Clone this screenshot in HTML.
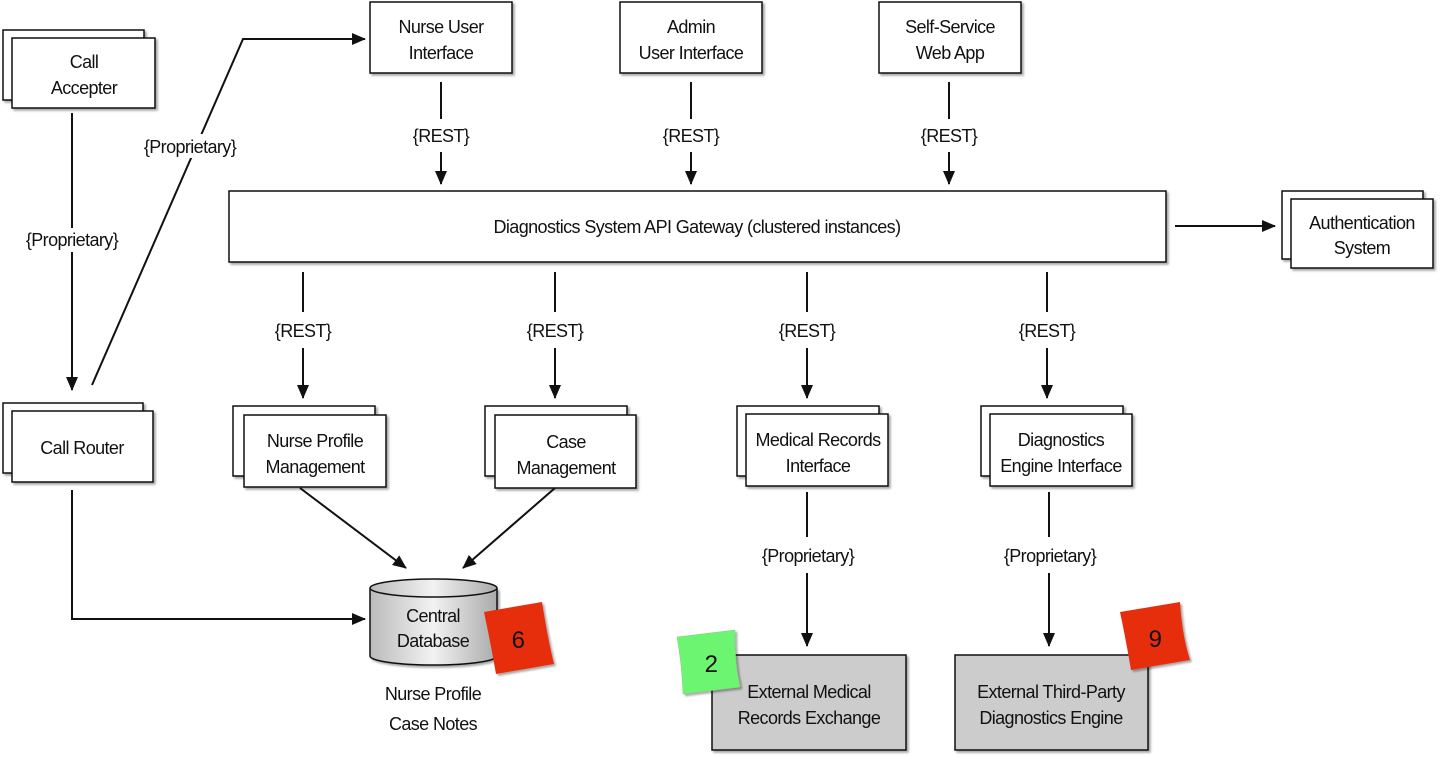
<!DOCTYPE html>
<html><head><meta charset="utf-8"><style>
html,body{margin:0;padding:0;background:#fff;}
svg{display:block;}
text{font-family:"Liberation Sans Narrow","Liberation Sans",sans-serif;font-size:18px;fill:#111;text-anchor:middle;letter-spacing:-0.6px;}
.b{fill:#fff;stroke:#111;stroke-width:1.5;filter:url(#sh);}
.l{stroke:#111;stroke-width:2;fill:none;}
</style></head><body>
<svg width="1440" height="758" viewBox="0 0 1440 758" xmlns="http://www.w3.org/2000/svg">
<defs>
<filter id="sh" x="-10%" y="-10%" width="130%" height="130%"><feDropShadow dx="2" dy="2" stdDeviation="1" flood-color="#000" flood-opacity="0.35"/></filter>
<marker id="a" markerWidth="14" markerHeight="12" refX="13" refY="6" orient="auto" markerUnits="userSpaceOnUse"><path d="M0,0 L14,6 L0,12 z" fill="#111"/></marker>
<linearGradient id="cyl" x1="0" x2="1"><stop offset="0" stop-color="#bbb"/><stop offset="0.5" stop-color="#f2f2f2"/><stop offset="1" stop-color="#aaa"/></linearGradient>
</defs>

<rect class="b" x="3" y="30" width="141" height="70"/>
<rect class="b" x="12" y="38" width="143" height="70"/>
<text x="84" y="68">Call</text><text x="84" y="94">Accepter</text>
<rect class="b" x="3" y="403" width="140" height="70"/>
<rect class="b" x="12" y="411" width="141" height="71"/>
<text x="82" y="454">Call  Router</text>

<rect class="b" x="370" y="2" width="142" height="71"/><text x="441" y="33">Nurse User</text><text x="441" y="59">Interface</text>
<rect class="b" x="620" y="2" width="142" height="71"/><text x="691" y="33">Admin</text><text x="691" y="59">User Interface</text>
<rect class="b" x="879" y="2" width="142" height="71"/><text x="950" y="33">Self-Service</text><text x="950" y="59">Web App</text>

<rect class="b" x="229" y="191" width="937" height="71"/>
<text x="697" y="233">Diagnostics System API Gateway (clustered instances)</text>

<rect class="b" x="1282" y="191" width="141" height="68"/>
<rect class="b" x="1291" y="199" width="142" height="69"/>
<text x="1362" y="229">Authentication</text><text x="1362" y="254">System</text>

<rect class="b" x="233" y="406" width="142" height="70"/><rect class="b" x="244" y="415" width="142" height="72"/>
<text x="315" y="447">Nurse Profile</text><text x="315" y="473">Management</text>
<rect class="b" x="485" y="406" width="142" height="70"/><rect class="b" x="495" y="415" width="141" height="73"/>
<text x="566" y="448">Case</text><text x="566" y="474">Management</text>
<rect class="b" x="737" y="406" width="142" height="70"/><rect class="b" x="746" y="414" width="142" height="72"/>
<text x="818" y="446">Medical Records</text><text x="818" y="472">Interface</text>
<rect class="b" x="981" y="406" width="142" height="70"/><rect class="b" x="990" y="414" width="142" height="72"/>
<text x="1061" y="446">Diagnostics</text><text x="1061" y="472">Engine Interface</text>

<rect class="b" x="712" y="655" width="194" height="95" style="fill:#cccccc"/>
<text x="809" y="698">External Medical</text><text x="809" y="724">Records Exchange</text>
<rect class="b" x="955" y="655" width="193" height="95" style="fill:#cccccc"/>
<text x="1051" y="698">External Third-Party</text><text x="1051" y="724">Diagnostics Engine</text>

<path d="M370,588 L370,656 A63.5,9 0 0 0 497,656 L497,588" fill="url(#cyl)" stroke="#111" stroke-width="1.5" filter="url(#sh)"/>
<ellipse cx="433.5" cy="588" rx="63.5" ry="9" fill="url(#cyl)" stroke="#111" stroke-width="1.5"/>
<text x="433" y="622">Central</text><text x="433" y="647">Database</text>
<text x="433" y="700">Nurse Profile</text><text x="433" y="730">Case Notes</text>

<path d="M484,612 L542,602 Q548,640 554,664 L496,674 Q490,640 484,612 z" fill="#e62e0a" filter="url(#sh)"/>
<text x="518" y="648" style="font-size:24px">6</text>
<path d="M677,637 L735,630 Q734,660 740,687 L683,694 Q682,665 677,637 z" fill="#6cf570" stroke="#8c8" stroke-width="0.5" filter="url(#sh)"/>
<text x="711" y="672" style="font-size:24px">2</text>
<path d="M1120,612 L1180,602 Q1182,635 1190,660 L1131,670 Q1126,640 1120,612 z" fill="#e62e0a" filter="url(#sh)"/>
<text x="1155" y="647" style="font-size:24px">9</text>

<line class="l" x1="72" y1="113" x2="72" y2="390" marker-end="url(#a)"/>
<rect x="15" y="228" width="115" height="24" fill="#fff"/><text x="72" y="246">{Proprietary}</text>
<polyline class="l" points="92,385 243,39 365,39" marker-end="url(#a)"/>
<rect x="133" y="134" width="115" height="24" fill="#fff"/><text x="190" y="153">{Proprietary}</text>
<polyline class="l" points="72,490 72,619 365,619" marker-end="url(#a)"/>

<g>
<line class="l" x1="441" y1="82" x2="441" y2="119"/><line class="l" x1="441" y1="152" x2="441" y2="184" marker-end="url(#a)"/><text x="441" y="142">{REST}</text>
<line class="l" x1="691" y1="82" x2="691" y2="119"/><line class="l" x1="691" y1="152" x2="691" y2="184" marker-end="url(#a)"/><text x="691" y="142">{REST}</text>
<line class="l" x1="949" y1="82" x2="949" y2="119"/><line class="l" x1="949" y1="152" x2="949" y2="184" marker-end="url(#a)"/><text x="949" y="142">{REST}</text>
</g>
<g>
<line class="l" x1="303" y1="272" x2="303" y2="312"/><line class="l" x1="303" y1="348" x2="303" y2="398" marker-end="url(#a)"/><text x="303" y="337">{REST}</text>
<line class="l" x1="555" y1="272" x2="555" y2="312"/><line class="l" x1="555" y1="348" x2="555" y2="398" marker-end="url(#a)"/><text x="555" y="337">{REST}</text>
<line class="l" x1="807" y1="272" x2="807" y2="312"/><line class="l" x1="807" y1="348" x2="807" y2="398" marker-end="url(#a)"/><text x="807" y="337">{REST}</text>
<line class="l" x1="1047" y1="272" x2="1047" y2="312"/><line class="l" x1="1047" y1="348" x2="1047" y2="398" marker-end="url(#a)"/><text x="1047" y="337">{REST}</text>
</g>
<line class="l" x1="1175" y1="226" x2="1275" y2="226" marker-end="url(#a)"/>

<line class="l" x1="807" y1="492" x2="807" y2="537"/><line class="l" x1="807" y1="573" x2="807" y2="646" marker-end="url(#a)"/><text x="808" y="562">{Proprietary}</text>
<line class="l" x1="1049" y1="492" x2="1049" y2="537"/><line class="l" x1="1049" y1="573" x2="1049" y2="646" marker-end="url(#a)"/><text x="1050" y="562">{Proprietary}</text>

<line class="l" x1="300" y1="488" x2="406" y2="568" marker-end="url(#a)"/>
<line class="l" x1="555" y1="488" x2="463" y2="568" marker-end="url(#a)"/>
</svg>
</body></html>
